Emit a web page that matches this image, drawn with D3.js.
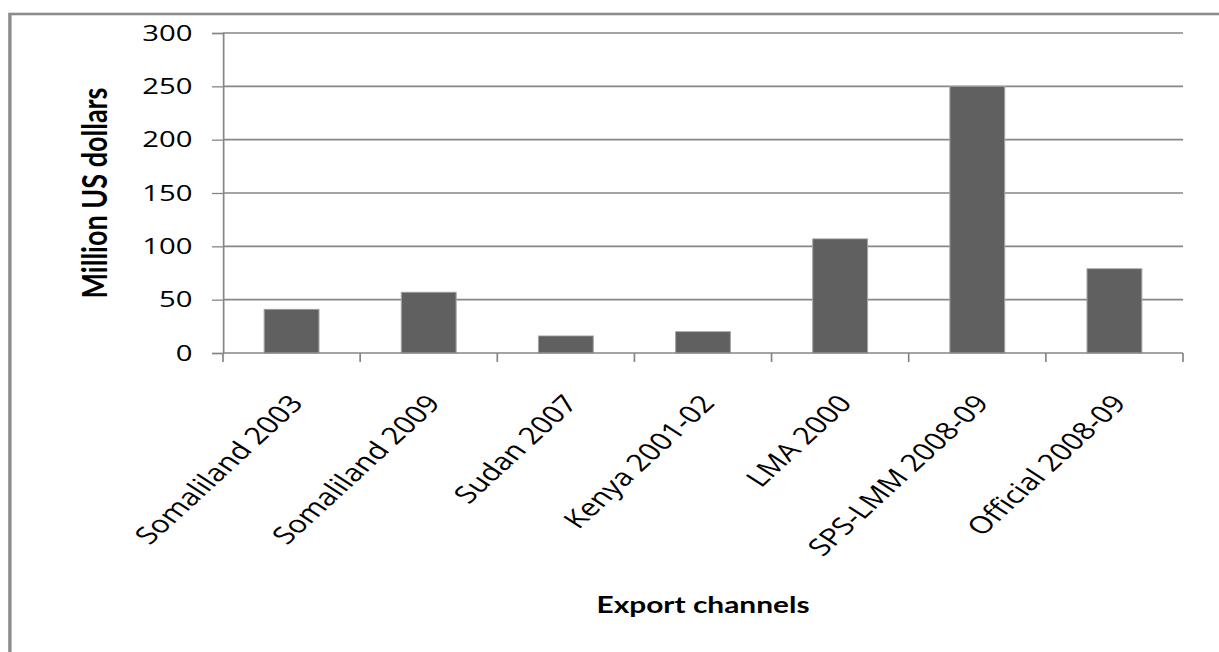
<!DOCTYPE html>
<html>
<head>
<meta charset="utf-8">
<script src="https://cdn.jsdelivr.net/npm/d3@7"></script>
<style>
  html, body { margin: 0; padding: 0; background: #fff; overflow: hidden; }
  svg { display: block; }
</style>
</head>
<body>
<div id="chart"></div>
<script>
// data
const categories = ["Somaliland 2003", "Somaliland 2009", "Sudan 2007", "Kenya 2001-02",
                    "LMA 2000", "SPS-LMM 2008-09", "Official 2008-09"];
const values = [41, 57, 16, 20, 107, 250, 79];
const yTicks = [0, 50, 100, 150, 200, 250, 300];
const yTitle = "Million US dollars";
const xTitle = "Export channels";

// the original picture is stretched sideways, so draw in a narrower
// viewBox and let the svg stretch it out
const stretch = 1.3;
const pageW = 1219, pageH = 652;
const vbW = pageW / stretch;

const plot = {left: 223 / stretch, right: 1183 / stretch, top: 33, bottom: 353};
const grey = "#868686";

const svg = d3.select("#chart")
  .append("svg")
  .attr("width", pageW)
  .attr("height", pageH)
  .attr("viewBox", `0 0 ${vbW} ${pageH}`)
  .attr("preserveAspectRatio", "none");

// outer frame (only top and left show in the picture)
svg.append("rect")
  .attr("x", 7.6)
  .attr("y", 14)
  .attr("width", vbW + 20)
  .attr("height", pageH + 20)
  .attr("fill", "none")
  .attr("stroke", "#8c8c8c")
  .attr("stroke-width", 2.6);

const x = d3.scaleBand()
  .domain(categories)
  .range([plot.left, plot.right])
  .paddingInner(0.6)
  .paddingOuter(0.3);

const y = d3.scaleLinear()
  .domain([0, 300])
  .range([plot.bottom, plot.top]);

// gridlines
svg.append("g")
  .selectAll("line")
  .data(yTicks.filter(d => d > 0))
  .enter()
  .append("line")
    .attr("x1", plot.left)
    .attr("x2", plot.right)
    .attr("y1", d => y(d))
    .attr("y2", d => y(d))
    .attr("stroke", grey)
    .attr("stroke-width", 1.6);

// bars
svg.append("g")
  .selectAll("rect")
  .data(values)
  .enter()
  .append("rect")
    .attr("x", (d, i) => x(categories[i]))
    .attr("y", d => y(d))
    .attr("width", x.bandwidth())
    .attr("height", d => y(0) - y(d))
    .attr("fill", "#606060")
    .attr("stroke", "#a6a6a6")
    .attr("stroke-width", 0.8);

// y axis
const yAxis = svg.append("g")
  .attr("transform", `translate(${plot.left},0)`)
  .call(d3.axisLeft(y).tickValues(yTicks).tickSize(8.5).tickPadding(15));
yAxis.selectAll("path, line").attr("stroke", grey).attr("stroke-width", 1.3);
yAxis.selectAll("text")
  .attr("fill", "#000")
  .style("font-family", "'Open Sans', sans-serif")
  .style("font-size", "22.5px");

// x axis with ticks at the category borders
const xAxis = svg.append("g")
  .attr("transform", `translate(0,${plot.bottom})`);
xAxis.append("line")
  .attr("x1", plot.left).attr("x2", plot.right)
  .attr("stroke", grey).attr("stroke-width", 1.6);
const borders = d3.range(categories.length + 1).map(i => plot.left + i * (plot.right - plot.left) / categories.length);
xAxis.selectAll(".brd")
  .data(borders)
  .enter()
  .append("line")
    .attr("x1", d => d).attr("x2", d => d)
    .attr("y1", 0).attr("y2", 9)
    .attr("stroke", grey).attr("stroke-width", 1.3);

xAxis.selectAll(".lbl")
  .data(categories)
  .enter()
  .append("text")
    .attr("transform", d => `translate(${x(d) + x.bandwidth() / 2 + 10},51) rotate(-50)`)
    .attr("text-anchor", "end")
    .style("font-family", "'Open Sans', sans-serif")
    .style("font-size", "24px")
    .text(d => d);

// axis titles
svg.append("text")
  .attr("transform", `translate(82,193) rotate(-90)`)
  .attr("text-anchor", "middle")
  .style("font-family", "Lato, sans-serif")
  .style("font-weight", "bold")
  .style("font-size", "27px")
  .text(yTitle);

svg.append("text")
  .attr("x", (plot.left + plot.right) / 2)
  .attr("y", 613)
  .attr("text-anchor", "middle")
  .style("font-family", "Lato, sans-serif")
  .style("font-weight", "bold")
  .style("font-size", "23px")
  .text(xTitle);
</script>
</body>
</html>
